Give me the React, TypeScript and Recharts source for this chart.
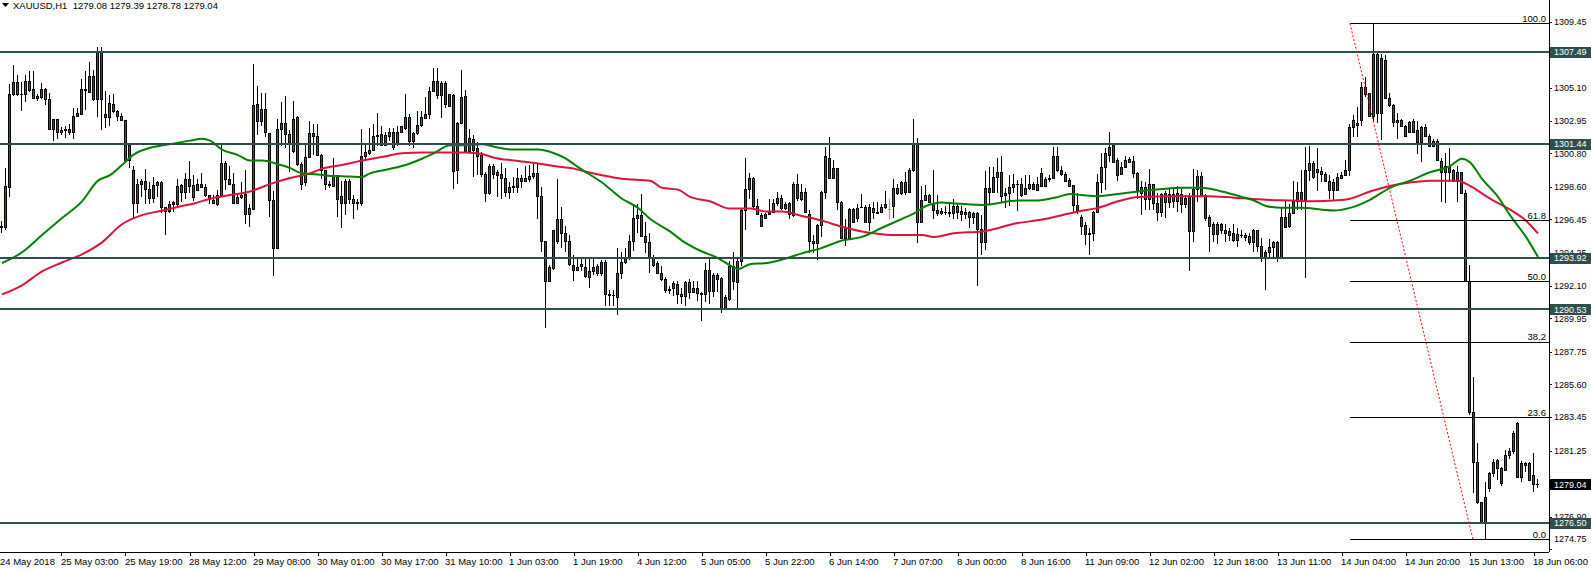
import {
  Bar,
  ComposedChart,
  Line,
  ReferenceLine,
  XAxis,
  YAxis,
} from "recharts";

type Ohlc = [number, number, number, number];

// hourly candles, open / high / low / close, one array per 16-bar stretch of the time axis
const may24: Ohlc[] = [
  [1295.97, 1296.37, 1295.54, 1296.02], [1295.97, 1299.84, 1295.78, 1298.65], [1298.6, 1305.34, 1297.93, 1304.67],
  [1304.67, 1306.61, 1304.58, 1305.46], [1305.46, 1305.94, 1304.58, 1304.67], [1304.72, 1305.46, 1303.55, 1304.67],
  [1304.72, 1305.94, 1304.15, 1305.58], [1304.98, 1306.18, 1304.86, 1305.58], [1305.03, 1306.18, 1304.38, 1304.43],
  [1304.58, 1304.67, 1304.26, 1304.46], [1304.5, 1305.39, 1304.38, 1305.05], [1305.05, 1305.1, 1303.95, 1304.34],
  [1304.34, 1304.74, 1302.35, 1302.42], [1302.42, 1303.07, 1301.63, 1303.07], [1303.02, 1303.07, 1301.75, 1302.23],
];
const may25a: Ohlc[] = [
  [1302.35, 1302.52, 1301.99, 1302.23], [1302.35, 1302.59, 1301.8, 1302.42], [1302.42, 1302.71, 1301.99, 1302.23],
  [1302.23, 1303.79, 1301.75, 1303.28], [1303.28, 1303.79, 1303.24, 1303.43], [1303.38, 1305.7, 1303.38, 1305.03],
  [1305.03, 1306.18, 1303.67, 1304.93], [1304.86, 1306.78, 1304.82, 1305.87], [1305.87, 1306.3, 1304.26, 1304.34],
  [1304.34, 1307.78, 1303.19, 1307.49], [1307.49, 1307.8, 1302.35, 1304.38], [1303.35, 1304.91, 1302.47, 1303.19],
  [1303.19, 1304.62, 1302.59, 1304.1], [1304.07, 1304.67, 1303.43, 1303.6], [1303.6, 1303.67, 1302.95, 1303.24],
  [1303.24, 1303.43, 1302.95, 1303.0],
];
const may25b: Ohlc[] = [
  [1303.0, 1303.0, 1300.32, 1300.37], [1300.37, 1301.32, 1299.84, 1301.32], [1299.7, 1299.96, 1296.49, 1297.55],
  [1297.55, 1299.12, 1296.85, 1298.81], [1298.81, 1299.12, 1297.93, 1298.96], [1298.96, 1299.77, 1297.45, 1298.45],
  [1298.45, 1298.93, 1297.45, 1297.86], [1297.86, 1299.24, 1297.52, 1298.69], [1298.69, 1299.0, 1297.93, 1298.88],
  [1298.88, 1299.0, 1296.85, 1297.26], [1297.26, 1297.26, 1295.42, 1297.02], [1297.02, 1297.69, 1296.85, 1297.45],
  [1297.45, 1297.69, 1296.97, 1297.57], [1297.45, 1299.12, 1297.33, 1298.65], [1298.69, 1298.77, 1297.57, 1298.22],
  [1298.22, 1299.48, 1297.81, 1299.08],
];
const may28: Ohlc[] = [
  [1299.08, 1300.32, 1298.17, 1298.65], [1297.93, 1299.36, 1297.69, 1298.69], [1298.41, 1299.12, 1298.29, 1298.77],
  [1298.77, 1299.48, 1298.53, 1298.6], [1298.6, 1298.77, 1297.93, 1298.05], [1297.81, 1298.05, 1297.45, 1298.05],
  [1297.74, 1298.05, 1297.45, 1297.5], [1297.45, 1298.41, 1297.33, 1298.05], [1298.05, 1301.4, 1297.93, 1300.13],
  [1300.13, 1300.32, 1298.41, 1299.08], [1299.08, 1299.96, 1298.77, 1298.81], [1298.81, 1299.48, 1297.45, 1297.5],
  [1297.5, 1298.17, 1297.45, 1297.93], [1297.93, 1298.88, 1297.81, 1298.05], [1298.1, 1299.72, 1296.14, 1296.78],
  [1296.78, 1297.45, 1295.97, 1297.21],
];
const may29: Ohlc[] = [
  [1297.16, 1306.66, 1297.09, 1303.98], [1304.05, 1305.22, 1301.99, 1302.95], [1302.95, 1304.74, 1302.59, 1303.71],
  [1303.71, 1304.74, 1301.87, 1302.23], [1302.16, 1302.16, 1296.61, 1297.74], [1297.74, 1298.29, 1292.74, 1294.58],
  [1294.58, 1303.07, 1294.58, 1302.42], [1302.42, 1304.15, 1301.27, 1302.76], [1302.76, 1304.57, 1301.16, 1302.09],
  [1302.09, 1302.35, 1299.6, 1301.4], [1300.92, 1304.26, 1300.8, 1303.07], [1303.19, 1303.24, 1299.96, 1300.08],
  [1300.08, 1300.2, 1298.41, 1298.77], [1298.88, 1301.4, 1298.65, 1300.56], [1300.56, 1302.95, 1300.56, 1302.11],
  [1302.11, 1302.71, 1300.68, 1301.95],
];
const may30a: Ohlc[] = [
  [1301.95, 1302.71, 1300.61, 1300.68], [1300.68, 1300.75, 1299.12, 1299.67], [1299.67, 1299.72, 1298.41, 1298.77],
  [1298.77, 1298.96, 1298.53, 1298.69], [1298.65, 1300.51, 1298.6, 1299.36], [1299.36, 1299.36, 1296.61, 1297.81],
  [1297.98, 1299.0, 1295.9, 1297.55], [1297.55, 1299.12, 1296.73, 1298.98], [1298.98, 1299.12, 1297.45, 1297.81],
  [1297.81, 1298.05, 1296.49, 1297.5], [1297.5, 1297.81, 1297.09, 1297.62], [1297.5, 1302.42, 1297.33, 1300.61],
  [1300.61, 1301.32, 1300.32, 1300.85], [1300.8, 1302.47, 1300.68, 1300.99], [1300.99, 1302.71, 1300.92, 1301.92],
  [1301.99, 1303.43, 1301.27, 1301.95],
];
const may30b: Ohlc[] = [
  [1302.04, 1302.59, 1301.27, 1301.32], [1301.32, 1302.23, 1301.27, 1301.99], [1301.95, 1302.47, 1301.63, 1302.18],
  [1302.18, 1302.47, 1301.04, 1301.2], [1301.4, 1302.59, 1301.27, 1302.23], [1302.23, 1302.59, 1302.16, 1302.59],
  [1302.47, 1304.67, 1302.35, 1303.19], [1303.19, 1303.38, 1301.27, 1301.61], [1301.61, 1302.23, 1301.16, 1302.11],
  [1302.11, 1303.6, 1301.99, 1302.64], [1302.64, 1303.55, 1302.52, 1303.19], [1303.14, 1304.5, 1303.07, 1303.35],
  [1303.35, 1305.15, 1303.07, 1304.91], [1304.91, 1306.42, 1304.86, 1305.53], [1305.53, 1306.42, 1304.38, 1304.62],
  [1304.62, 1305.53, 1303.14, 1305.39],
];
const may31: Ohlc[] = [
  [1305.39, 1305.53, 1303.79, 1304.03], [1304.67, 1304.67, 1303.86, 1303.91], [1304.62, 1304.67, 1298.45, 1299.65],
  [1299.72, 1302.83, 1298.77, 1302.78], [1302.78, 1306.3, 1302.71, 1304.5], [1304.55, 1304.98, 1300.85, 1300.97],
  [1300.97, 1302.42, 1300.87, 1301.8], [1301.75, 1301.99, 1299.24, 1301.04], [1301.16, 1301.51, 1299.36, 1300.61],
  [1300.68, 1300.85, 1299.24, 1299.46], [1299.41, 1299.6, 1297.57, 1298.17], [1298.17, 1300.08, 1298.05, 1299.96],
  [1299.96, 1300.08, 1299.12, 1299.41], [1299.6, 1299.72, 1297.93, 1299.36], [1299.46, 1300.13, 1297.81, 1299.17],
  [1299.17, 1299.84, 1297.93, 1298.22],
];
const jun01a: Ohlc[] = [
  [1298.22, 1298.88, 1297.81, 1298.6], [1298.65, 1299.24, 1298.17, 1298.55], [1298.6, 1299.84, 1298.17, 1299.17],
  [1299.2, 1299.36, 1298.53, 1299.0], [1299.0, 1299.96, 1298.88, 1299.2], [1299.08, 1300.03, 1298.88, 1299.29],
  [1299.29, 1300.08, 1299.08, 1299.48], [1299.48, 1300.08, 1296.49, 1298.0], [1298.0, 1298.6, 1294.34, 1295.01],
  [1295.01, 1295.06, 1289.32, 1292.43], [1292.43, 1293.43, 1292.31, 1293.34], [1293.27, 1295.73, 1293.15, 1295.73],
  [1295.06, 1299.08, 1294.82, 1296.45], [1296.45, 1297.26, 1294.58, 1295.54], [1295.54, 1296.02, 1294.34, 1295.06],
  [1295.06, 1295.42, 1293.39, 1293.51],
];
const jun01b: Ohlc[] = [
  [1293.43, 1294.1, 1292.38, 1293.1], [1293.1, 1293.98, 1293.03, 1293.31], [1293.55, 1293.98, 1293.03, 1293.39],
  [1293.34, 1293.98, 1292.62, 1292.76], [1292.67, 1293.86, 1291.95, 1293.03], [1293.03, 1293.98, 1292.79, 1293.31],
  [1293.39, 1293.51, 1292.72, 1292.96], [1292.96, 1293.81, 1292.72, 1293.67], [1293.67, 1293.81, 1290.76, 1291.52],
  [1291.52, 1291.83, 1290.76, 1291.47], [1291.47, 1291.83, 1290.76, 1291.5], [1291.35, 1294.58, 1290.16, 1292.9],
  [1292.9, 1294.34, 1292.55, 1293.67], [1293.67, 1294.58, 1293.51, 1293.91], [1293.91, 1295.42, 1293.81, 1295.06],
  [1295.06, 1297.45, 1294.39, 1296.54],
];
const jun04: Ohlc[] = [
  [1296.54, 1297.45, 1295.54, 1296.73], [1296.73, 1298.12, 1295.29, 1295.34], [1295.34, 1296.3, 1294.22, 1294.94],
  [1294.94, 1295.54, 1292.9, 1293.98], [1293.98, 1294.1, 1293.34, 1293.48], [1293.57, 1293.74, 1292.9, 1292.96],
  [1292.96, 1293.39, 1292.43, 1292.55], [1292.5, 1292.67, 1291.59, 1291.78], [1291.88, 1292.07, 1291.52, 1291.78],
  [1291.95, 1292.43, 1291.42, 1292.24], [1292.19, 1292.43, 1290.87, 1291.52], [1291.52, 1291.95, 1290.87, 1291.42],
  [1291.42, 1292.43, 1290.76, 1292.31], [1292.31, 1292.55, 1291.23, 1291.71], [1291.71, 1292.43, 1291.59, 1291.95],
  [1291.95, 1292.43, 1291.11, 1291.59],
];
const jun05a: Ohlc[] = [
  [1291.64, 1291.71, 1289.8, 1291.52], [1291.52, 1293.57, 1290.99, 1293.15], [1293.15, 1293.91, 1290.87, 1291.76],
  [1291.76, 1292.9, 1291.35, 1292.79], [1292.79, 1292.9, 1291.71, 1292.55], [1292.59, 1292.67, 1290.28, 1290.64],
  [1290.64, 1291.47, 1290.56, 1291.35], [1291.23, 1293.74, 1291.11, 1293.39], [1293.39, 1294.34, 1291.83, 1292.43],
  [1292.31, 1293.98, 1290.64, 1293.74], [1293.74, 1297.21, 1293.39, 1297.09], [1297.09, 1300.51, 1295.73, 1298.45],
  [1298.45, 1299.48, 1297.81, 1299.17], [1299.17, 1299.24, 1297.21, 1297.33], [1297.33, 1297.81, 1296.73, 1296.78],
  [1296.73, 1296.85, 1295.97, 1296.02],
];
const jun05b: Ohlc[] = [
  [1296.54, 1296.85, 1296.49, 1296.78], [1296.83, 1297.81, 1296.78, 1296.97], [1296.97, 1297.81, 1296.85, 1297.5],
  [1297.5, 1298.22, 1297.33, 1297.88], [1297.88, 1298.05, 1297.09, 1297.21], [1297.21, 1297.57, 1297.09, 1297.45],
  [1297.5, 1297.57, 1296.49, 1296.78], [1296.73, 1298.88, 1296.61, 1298.77], [1298.77, 1299.41, 1297.69, 1297.86],
  [1297.81, 1298.77, 1297.69, 1298.22], [1298.22, 1298.53, 1296.92, 1296.97], [1296.8, 1297.09, 1294.22, 1295.06],
  [1295.06, 1295.42, 1294.22, 1294.87], [1294.87, 1296.13, 1293.81, 1296.06], [1296.06, 1298.29, 1295.29, 1298.22],
  [1298.22, 1301.23, 1297.81, 1300.61],
];
const jun06: Ohlc[] = [
  [1300.51, 1301.85, 1299.12, 1299.17], [1299.17, 1300.37, 1299.12, 1299.84], [1299.84, 1299.84, 1297.09, 1297.57],
  [1297.57, 1297.69, 1295.18, 1295.25], [1295.25, 1296.49, 1294.7, 1295.97], [1295.25, 1297.21, 1295.1, 1297.14],
  [1297.16, 1297.21, 1296.21, 1296.3], [1296.54, 1297.45, 1296.3, 1297.21], [1297.28, 1298.1, 1297.21, 1297.26],
  [1297.28, 1297.4, 1296.21, 1296.25], [1296.25, 1297.45, 1295.66, 1297.26], [1297.21, 1297.57, 1296.49, 1296.97],
  [1296.97, 1297.57, 1296.78, 1296.9], [1296.97, 1297.45, 1296.92, 1297.28], [1297.28, 1298.29, 1297.16, 1297.45],
  [1297.16, 1297.81, 1296.49, 1297.16],
];
const jun07: Ohlc[] = [
  [1297.33, 1299.12, 1296.54, 1298.53], [1298.53, 1298.77, 1298.05, 1298.17], [1298.17, 1299.0, 1298.05, 1298.88],
  [1298.88, 1299.55, 1298.05, 1298.22], [1298.22, 1299.84, 1298.17, 1299.72], [1299.72, 1303.07, 1299.6, 1301.4],
  [1301.4, 1301.8, 1294.87, 1296.3], [1296.3, 1298.65, 1296.25, 1297.74], [1297.74, 1298.69, 1297.69, 1298.05],
  [1298.05, 1298.1, 1297.5, 1297.57], [1297.5, 1299.72, 1296.49, 1297.09], [1297.09, 1298.05, 1296.68, 1296.9],
  [1297.02, 1297.21, 1296.73, 1296.9], [1296.97, 1297.33, 1296.73, 1296.92], [1296.92, 1297.57, 1296.61, 1296.85],
  [1296.85, 1297.81, 1296.49, 1297.33],
];
const jun08a: Ohlc[] = [
  [1297.33, 1297.45, 1296.49, 1296.97], [1297.02, 1297.33, 1296.37, 1296.78], [1296.92, 1297.21, 1296.49, 1296.78],
  [1296.92, 1297.02, 1295.9, 1296.61], [1296.85, 1296.92, 1296.13, 1296.61], [1296.85, 1296.97, 1292.07, 1295.85],
  [1295.85, 1296.73, 1294.1, 1294.94], [1294.94, 1299.65, 1294.46, 1298.53], [1298.53, 1299.89, 1297.45, 1298.22],
  [1298.22, 1299.89, 1298.17, 1299.24], [1299.24, 1300.51, 1298.17, 1299.6], [1299.6, 1300.61, 1297.57, 1297.98],
  [1298.17, 1298.53, 1297.21, 1298.05], [1298.17, 1299.36, 1297.33, 1298.6], [1298.6, 1299.41, 1298.17, 1298.77],
  [1298.77, 1299.05, 1297.02, 1298.81],
];
const jun08b: Ohlc[] = [
  [1298.77, 1299.17, 1297.93, 1298.05], [1298.12, 1299.36, 1298.05, 1298.53], [1298.53, 1299.36, 1298.41, 1298.77],
  [1298.77, 1298.88, 1298.36, 1298.45], [1298.41, 1299.24, 1298.36, 1298.77], [1299.48, 1299.84, 1298.6, 1298.65],
  [1298.65, 1299.24, 1298.6, 1299.12], [1299.12, 1299.36, 1298.88, 1299.17], [1299.17, 1301.23, 1299.12, 1300.61],
  [1300.61, 1301.23, 1299.6, 1299.72], [1299.72, 1299.96, 1299.31, 1299.41], [1299.41, 1299.6, 1298.88, 1299.0],
  [1299.05, 1299.17, 1298.6, 1298.65], [1298.69, 1298.69, 1296.85, 1297.4], [1297.4, 1298.17, 1296.78, 1297.09],
  [1296.61, 1296.73, 1295.42, 1296.02],
];
const jun11: Ohlc[] = [
  [1296.06, 1296.25, 1294.77, 1295.49], [1295.54, 1295.9, 1294.1, 1295.49], [1295.54, 1297.02, 1295.01, 1296.97],
  [1296.97, 1299.41, 1296.85, 1298.88], [1298.88, 1300.8, 1298.17, 1299.91], [1299.91, 1301.16, 1298.41, 1300.8],
  [1300.68, 1302.23, 1300.2, 1301.23], [1301.32, 1301.4, 1300.13, 1300.2], [1299.36, 1300.51, 1299.0, 1300.37],
  [1299.41, 1300.2, 1299.36, 1299.89], [1299.89, 1300.61, 1299.84, 1300.37], [1300.44, 1300.56, 1300.13, 1300.2],
  [1300.32, 1300.61, 1299.17, 1299.48], [1299.48, 1299.6, 1297.81, 1298.41], [1298.17, 1299.0, 1296.73, 1298.6],
  [1298.6, 1298.88, 1297.09, 1297.81],
];
const jun12a: Ohlc[] = [
  [1297.81, 1299.79, 1297.09, 1298.77], [1298.77, 1298.77, 1297.09, 1297.5], [1297.5, 1298.17, 1296.37, 1296.97],
  [1296.92, 1298.17, 1296.61, 1298.12], [1298.17, 1298.29, 1296.54, 1297.57], [1297.57, 1298.53, 1297.21, 1298.12],
  [1298.12, 1298.6, 1297.21, 1297.64], [1297.69, 1298.65, 1296.92, 1298.17], [1298.12, 1298.45, 1296.85, 1297.45],
  [1297.88, 1298.05, 1297.21, 1297.45], [1297.93, 1298.17, 1293.03, 1295.66], [1295.66, 1299.79, 1294.94, 1298.45],
  [1298.45, 1299.72, 1297.57, 1299.31], [1299.31, 1299.6, 1297.93, 1298.05], [1298.05, 1298.12, 1296.37, 1296.54],
  [1296.61, 1296.73, 1294.34, 1296.02],
];
const jun12b: Ohlc[] = [
  [1296.13, 1296.25, 1294.94, 1295.49], [1295.49, 1296.25, 1294.82, 1296.13], [1296.13, 1296.21, 1295.49, 1295.73],
  [1295.78, 1296.13, 1294.94, 1295.58], [1295.66, 1295.9, 1295.06, 1295.42], [1295.54, 1296.13, 1294.94, 1295.1],
  [1295.1, 1295.9, 1294.63, 1295.49], [1295.42, 1295.78, 1295.25, 1295.45], [1295.42, 1295.54, 1295.06, 1295.29],
  [1295.34, 1295.54, 1294.77, 1294.94], [1294.94, 1295.82, 1294.34, 1295.78], [1295.78, 1295.78, 1294.34, 1294.68],
  [1294.68, 1295.25, 1293.62, 1293.98], [1293.98, 1294.46, 1291.83, 1294.34], [1294.34, 1295.18, 1293.98, 1294.63],
  [1294.63, 1295.06, 1293.98, 1294.94],
];
const jun13: Ohlc[] = [
  [1294.94, 1295.06, 1293.62, 1293.98], [1293.98, 1297.21, 1293.91, 1296.61], [1296.61, 1297.74, 1295.9, 1295.97],
  [1296.02, 1297.45, 1295.9, 1296.85], [1296.85, 1299.0, 1296.78, 1297.74], [1297.69, 1298.88, 1297.09, 1298.24],
  [1298.24, 1299.72, 1297.09, 1297.64], [1297.64, 1301.23, 1292.62, 1299.72], [1299.72, 1301.27, 1299.0, 1300.13],
  [1300.13, 1300.32, 1299.08, 1299.24], [1299.79, 1301.16, 1298.29, 1299.6], [1299.65, 1299.89, 1298.88, 1299.41],
  [1299.41, 1299.6, 1298.88, 1299.0], [1299.0, 1299.36, 1297.81, 1298.36], [1298.36, 1299.08, 1297.69, 1298.88],
  [1298.41, 1299.48, 1298.29, 1299.24],
];
const jun14a: Ohlc[] = [
  [1299.17, 1299.6, 1299.12, 1299.36], [1299.36, 1300.37, 1299.31, 1299.72], [1299.72, 1302.71, 1299.31, 1302.52],
  [1302.52, 1303.31, 1301.87, 1303.0], [1302.8, 1303.86, 1301.87, 1302.66], [1303.0, 1305.46, 1302.59, 1305.17],
  [1305.17, 1305.82, 1304.5, 1304.67], [1304.74, 1304.74, 1303.19, 1303.24], [1303.24, 1309.33, 1302.95, 1307.3],
  [1307.3, 1307.49, 1302.78, 1303.47], [1303.47, 1307.3, 1301.7, 1307.06], [1306.96, 1307.25, 1304.38, 1304.43],
  [1304.43, 1304.74, 1303.86, 1303.95], [1303.95, 1304.03, 1302.52, 1302.88], [1303.0, 1303.43, 1301.75, 1302.88],
  [1303.0, 1303.07, 1302.52, 1302.59],
];
const jun14b: Ohlc[] = [
  [1302.59, 1302.66, 1301.87, 1301.95], [1302.23, 1302.95, 1302.11, 1302.88], [1302.23, 1303.07, 1302.11, 1302.95],
  [1302.35, 1302.95, 1300.75, 1301.51], [1301.51, 1302.59, 1300.2, 1302.52], [1302.52, 1302.71, 1301.87, 1301.95],
  [1301.95, 1302.04, 1301.27, 1301.27], [1301.27, 1301.75, 1301.23, 1301.63], [1301.63, 1301.75, 1300.32, 1300.37],
  [1300.32, 1300.51, 1297.57, 1299.55], [1299.96, 1300.8, 1297.5, 1299.55], [1299.96, 1301.16, 1298.88, 1299.55],
  [1299.72, 1299.79, 1298.88, 1299.0], [1299.0, 1299.96, 1297.57, 1299.55], [1299.55, 1299.6, 1298.12, 1298.17],
  [1298.17, 1298.41, 1292.31, 1292.38],
];
const jun15: Ohlc[] = [
  [1292.38, 1293.43, 1283.58, 1283.82], [1283.82, 1286.09, 1278.44, 1280.52], [1280.52, 1281.72, 1277.77, 1277.84],
  [1277.84, 1277.9, 1276.41, 1276.53], [1276.53, 1279.16, 1275.4, 1278.2], [1278.8, 1279.87, 1278.56, 1279.75],
  [1279.75, 1280.71, 1279.52, 1280.52], [1280.66, 1280.71, 1279.33, 1280.12], [1280.12, 1280.16, 1278.92, 1279.09],
  [1279.99, 1281.31, 1279.9, 1280.95], [1280.95, 1281.43, 1280.71, 1281.24], [1281.24, 1282.51, 1281.0, 1282.39],
  [1283.06, 1283.15, 1279.47, 1279.52], [1279.52, 1280.59, 1279.16, 1280.43], [1280.28, 1280.47, 1279.87, 1280.43],
  [1280.43, 1280.52, 1279.28, 1279.33],
];
const jun18: Ohlc[] = [
  [1279.64, 1281.07, 1278.51, 1279.04], [1279.08, 1279.39, 1278.78, 1279.04],
];

// moving averages at [bar, price]
const fastMa: [number, number][] = [
  [0, 1293.58], [5, 1294.29], [10, 1295.42], [15, 1296.54], [20, 1297.64], [24, 1299.0], [27, 1299.36],
  [30, 1300.03], [33, 1300.73], [37, 1301.16], [41, 1301.35], [47, 1301.63], [50, 1301.75], [52, 1301.63],
  [55, 1301.04], [59, 1300.68], [62, 1300.32], [65, 1300.32], [69, 1300.08], [72, 1299.84], [75, 1299.48],
  [79, 1299.41], [82, 1299.31], [85, 1299.29], [90, 1299.24], [92, 1299.48], [96, 1299.72], [100, 1299.96],
  [105, 1300.44], [108, 1300.8], [112, 1301.32], [115, 1301.32], [120, 1301.4], [123, 1301.23], [128, 1301.04],
  [134, 1301.04], [138, 1300.8], [141, 1300.44], [143, 1300.08], [145, 1299.72], [150, 1298.88], [155, 1297.81],
  [159, 1297.21], [162, 1296.49], [167, 1295.66], [170, 1295.06], [175, 1294.34], [179, 1293.91], [182, 1293.43],
  [184, 1293.19], [187, 1293.51], [191, 1293.58], [195, 1293.81], [200, 1294.22], [205, 1294.58], [210, 1295.06],
  [215, 1295.3], [220, 1295.9], [225, 1296.49], [228, 1296.85], [231, 1297.33], [235, 1297.57], [238, 1297.5],
  [245, 1297.4], [254, 1297.69], [259, 1297.69], [264, 1297.93], [267, 1298.12], [270, 1298.05], [274, 1297.98],
  [279, 1298.12], [284, 1298.29], [290, 1298.45], [295, 1298.53], [300, 1298.53], [305, 1298.29], [310, 1297.93],
  [313, 1297.69], [316, 1297.33], [320, 1297.21], [325, 1297.21], [330, 1297.09], [333, 1297.04], [337, 1297.21],
  [342, 1297.74], [347, 1298.53], [352, 1299.0], [357, 1299.55], [362, 1299.96], [365, 1300.44], [367, 1300.2],
  [370, 1299.12], [374, 1297.93], [377, 1296.73], [381, 1295.3], [384, 1293.98],
];
const slowMa: [number, number][] = [
  [0, 1291.52], [5, 1292.12], [10, 1293.03], [15, 1293.62], [20, 1294.15], [25, 1294.94], [30, 1296.13],
  [35, 1296.73], [40, 1297.02], [45, 1297.33], [48, 1297.5], [52, 1297.81], [57, 1298.05], [62, 1298.29],
  [67, 1298.77], [72, 1299.17], [77, 1299.48], [80, 1299.79], [85, 1300.03], [90, 1300.32], [96, 1300.61],
  [100, 1300.8], [105, 1300.85], [111, 1300.85], [116, 1300.85], [120, 1300.75], [123, 1300.51], [128, 1300.32],
  [134, 1300.13], [138, 1299.96], [143, 1299.79], [145, 1299.65], [150, 1299.36], [155, 1299.12], [162, 1299.0],
  [165, 1298.53], [169, 1298.41], [172, 1297.93], [177, 1297.64], [182, 1297.16], [187, 1297.16], [191, 1296.97],
  [195, 1296.97], [200, 1296.68], [205, 1296.37], [210, 1295.97], [215, 1295.66], [218, 1295.54], [223, 1295.42],
  [230, 1295.42], [233, 1295.3], [238, 1295.54], [245, 1295.66], [254, 1296.21], [260, 1296.44], [265, 1296.73],
  [269, 1296.97], [274, 1297.21], [279, 1297.64], [284, 1297.93], [293, 1297.98], [301, 1297.98], [308, 1297.88],
  [316, 1297.74], [323, 1297.69], [328, 1297.64], [333, 1297.69], [337, 1297.81], [342, 1298.29], [347, 1298.65],
  [352, 1298.88], [357, 1299.0], [364, 1299.0], [367, 1298.65], [372, 1297.81], [377, 1297.09], [381, 1296.37],
  [384, 1295.53],
];

const levels = [1307.49, 1301.44, 1293.92, 1290.53, 1276.5];
const bidPrice = 1279.04;

const fibNames = ["0.0", "23.6", "38.2", "50.0", "61.8", "100.0"];
const fibPrices = [1275.4, 1283.41, 1288.36, 1292.35, 1296.37, 1309.33];
const fibStartBar = 337;
const fibTrend = [
  { x: 337, y: 1309.33 },
  { x: 367.75, y: 1275.4 },
];

const priceTicks = [
  1274.75, 1276.9, 1279.1, 1281.25, 1283.45, 1285.6, 1287.75, 1289.95, 1292.1,
  1294.25, 1296.45, 1298.6, 1300.8, 1302.95, 1305.1, 1307.3, 1309.45,
];

const timeTickBars = [
  -0.5, 15, 31, 47, 63, 79, 95, 111, 127, 143, 159, 175, 191, 207, 223, 239,
  255, 271, 287, 303, 319, 335, 351, 367, 383,
];
const timeTickLabels = [
  "24 May 2018", "25 May 03:00", "25 May 19:00", "28 May 12:00", "29 May 08:00",
  "30 May 01:00", "30 May 17:00", "31 May 10:00", "1 Jun 03:00", "1 Jun 19:00",
  "4 Jun 12:00", "5 Jun 05:00", "5 Jun 22:00", "6 Jun 14:00", "7 Jun 07:00",
  "8 Jun 00:00", "8 Jun 16:00", "11 Jun 09:00", "12 Jun 02:00", "12 Jun 18:00",
  "13 Jun 11:00", "14 Jun 04:00", "14 Jun 20:00", "15 Jun 13:00", "18 Jun 06:00",
];

const W = 1591;
const H = 571;
const AXIS_W = 42;
const AXIS_H = 19;
const X_DOMAIN: [number, number] = [-0.5, 386.75];
const Y_DOMAIN: [number, number] = [1274.584, 1310.876];

const FONT = "'Liberation Sans', Arial, sans-serif";
const BULL = "#008000";
const BEAR = "#C8102E";
const DOJI = "#00FF00";
const SLATE = "#2F4F4F";

const sessions = [
  may24, may25a, may25b, may28, may29, may30a, may30b, may31, jun01a, jun01b,
  jun04, jun05a, jun05b, jun06, jun07, jun08a, jun08b, jun11, jun12a, jun12b,
  jun13, jun14a, jun14b, jun15, jun18,
];

const data = sessions.flat().map(([o, h, l, c], i) => ({
  i,
  o,
  h,
  l,
  c,
  range: [l, h],
}));
const fastData = fastMa.map(([i, v]) => ({ i, fast: v }));
const slowData = slowMa.map(([i, v]) => ({ i, slow: v }));

// value boxes go last so they sit on top of the plain price labels
const axisValues = [...priceTicks, ...levels, bidPrice];

const tickLabelAt = new Map(timeTickBars.map((b, k) => [b, timeTickLabels[k]]));
const last = data[data.length - 1];

export default function App() {
  return (
    <div
      style={{
        position: "absolute",
        left: 0,
        top: 0,
        width: W,
        height: H,
        background: "#fff",
        overflow: "hidden",
      }}
    >
      <ComposedChart
        width={W}
        height={H}
        data={data}
        margin={{ top: 0, right: 0, bottom: 0, left: 0 }}
      >
        <XAxis
          dataKey="i"
          type="number"
          domain={X_DOMAIN}
          ticks={timeTickBars}
          interval={0}
          height={AXIS_H}
          tickSize={0}
          tickMargin={0}
          tickLine={false}
          axisLine={{ stroke: "#000", shapeRendering: "crispEdges" }}
          tick={<TimeTick />}
          allowDataOverflow
        />
        <YAxis
          orientation="right"
          type="number"
          domain={Y_DOMAIN}
          ticks={axisValues}
          interval={0}
          width={AXIS_W}
          tickSize={0}
          tickMargin={0}
          tickLine={false}
          axisLine={{ stroke: "#000", shapeRendering: "crispEdges" }}
          tick={<PriceTick />}
          allowDataOverflow
        />
        <Bar
          dataKey="range"
          barSize={3}
          shape={<Candle />}
          isAnimationActive={false}
        />
        <Line
          data={slowData}
          dataKey="slow"
          type="monotone"
          stroke="#DC143C"
          strokeWidth={2}
          dot={false}
          activeDot={false}
          isAnimationActive={false}
        />
        <Line
          data={fastData}
          dataKey="fast"
          type="monotone"
          stroke={BULL}
          strokeWidth={2}
          dot={false}
          activeDot={false}
          isAnimationActive={false}
        />
        {levels.map((v) => (
          <ReferenceLine
            key={v}
            y={v}
            stroke={SLATE}
            strokeWidth={2}
            shapeRendering="crispEdges"
          />
        ))}
        {fibPrices.map((p, k) => (
          <ReferenceLine
            key={`fib-${fibNames[k]}`}
            segment={[
              { x: fibStartBar, y: p },
              { x: X_DOMAIN[1], y: p },
            ]}
            stroke="#000"
            strokeWidth={1}
            shapeRendering="crispEdges"
            label={<FibLabel text={fibNames[k]} />}
          />
        ))}
        <ReferenceLine
          segment={fibTrend}
          stroke="#FF0000"
          strokeWidth={1}
          strokeDasharray="2 2"
        />
      </ComposedChart>

      <svg
        width={10}
        height={10}
        style={{ position: "absolute", left: 2, top: 2 }}
      >
        <polygon points="0,1 7,1 3.5,5" fill="#000" />
      </svg>
      <div
        style={{
          position: "absolute",
          left: 13,
          top: 1,
          fontFamily: FONT,
          fontSize: 9.5,
          lineHeight: "10px",
          whiteSpace: "pre",
          color: "#000",
        }}
      >
        {`XAUUSD,H1  ${[last.o, last.h, last.l, last.c]
          .map((v) => v.toFixed(2))
          .join(" ")}`}
      </div>
    </div>
  );
}

function Candle(props: any) {
  const { x, y, width, height, payload } = props;
  if (!payload || !Number.isFinite(x) || !Number.isFinite(y)) return null;
  const { o, h, l, c } = payload;
  const top = Math.min(y, y + height);
  const span = Math.abs(height);
  const py = (p: number) => top + ((h - p) / (h - l)) * span;
  const cx = Math.floor(x + width / 2);
  const wTop = Math.round(top);
  const wH = Math.max(1, Math.round(top + span) - wTop);

  if (o === c) {
    return (
      <g>
        <rect x={cx} y={wTop} width={1} height={wH} fill={DOJI} />
        <rect x={cx - 1} y={Math.round(py(o))} width={3} height={1} fill={DOJI} />
      </g>
    );
  }

  const bTop = Math.round(py(Math.max(o, c)));
  const bBot = Math.round(py(Math.min(o, c)));
  return (
    <g>
      <rect x={cx} y={wTop} width={1} height={wH} fill="#000" />
      <rect x={cx - 1} y={bTop} width={3} height={bBot - bTop + 1} fill="#000" />
      {bBot - bTop >= 2 && (
        <rect
          x={cx}
          y={bTop + 1}
          width={1}
          height={bBot - bTop - 1}
          fill={c > o ? BULL : BEAR}
        />
      )}
    </g>
  );
}

function TimeTick(props: any) {
  const { x, y, payload } = props;
  const label = tickLabelAt.get(payload.value);
  if (!label) return null;
  const first = payload.value === timeTickBars[0];
  return (
    <g>
      {!first && (
        <rect x={Math.floor(x)} y={y} width={1} height={4} fill="#000" />
      )}
      <text
        x={first ? 0 : x - 1}
        y={y + 12.5}
        fontFamily={FONT}
        fontSize={9.5}
        fill="#000"
        textAnchor="start"
      >
        {label}
      </text>
    </g>
  );
}

function PriceTick(props: any) {
  const { x, y, payload } = props;
  const value = Number(payload.value);
  const boxFill =
    value === bidPrice ? "#000" : levels.includes(value) ? SLATE : null;

  if (boxFill) {
    return (
      <g>
        <rect x={x + 1} y={Math.round(y) - 5} width={AXIS_W - 1} height={11} fill={boxFill} />
        <text
          x={x + 5}
          y={y + 3.4}
          fontFamily={FONT}
          fontSize={9}
          fill="#fff"
          textAnchor="start"
        >
          {value.toFixed(2)}
        </text>
      </g>
    );
  }

  const ty = Math.min(y, H - AXIS_H - 13.5);
  return (
    <g>
      <rect x={x} y={Math.round(y)} width={3} height={1} fill="#000" />
      <text
        x={x + 5}
        y={ty + 3.3}
        fontFamily={FONT}
        fontSize={9}
        fill="#000"
        textAnchor="start"
      >
        {value.toFixed(2)}
      </text>
    </g>
  );
}

function FibLabel(props: any) {
  const { viewBox, text } = props;
  if (!viewBox) return null;
  return (
    <text
      x={viewBox.x + viewBox.width - 3}
      y={viewBox.y - 2}
      fontFamily={FONT}
      fontSize={9.5}
      fill="#000"
      textAnchor="end"
    >
      {text}
    </text>
  );
}
